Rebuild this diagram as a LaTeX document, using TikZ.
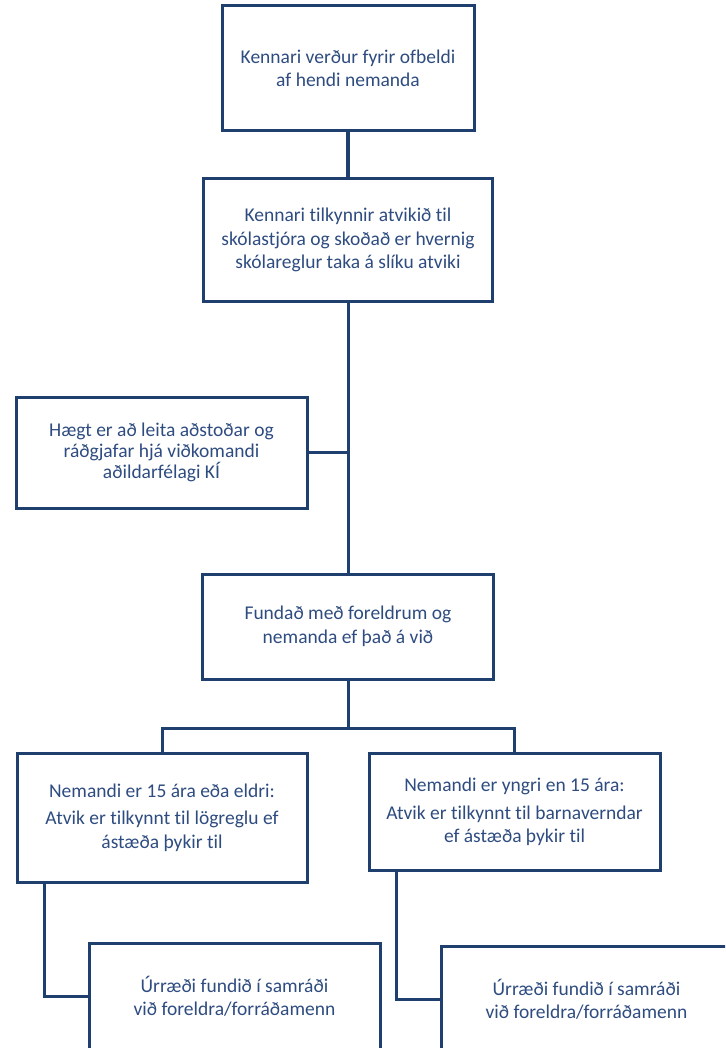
\documentclass[tikz,border=0pt]{standalone}
\usepackage{fontspec}
\setmainfont{Carlito}[Ligatures=NoCommon]
\usepackage{tikz}
\usetikzlibrary{positioning,calc}
\definecolor{navy}{HTML}{1F3F6E}
\definecolor{inkblue}{HTML}{2E4C80}
\tikzset{
  flowbox/.style={
    rectangle, draw=navy, line width=3pt, fill=white,
    minimum width=291pt, minimum height=#1,
    font=\fontsize{19.5}{23.5}\selectfont, text=inkblue, align=center,
    inner sep=4pt
  },
  flowbox/.default=110pt,
  link/.style={draw=navy, line width=3pt}
}
\begin{document}
\begin{tikzpicture}[x=1pt,y=-1pt]
\clip (0,0) rectangle (725,1048);
\node[flowbox=125pt, minimum width=252pt] (top) at (348,68.5) {Kennari verður fyrir ofbeldi\\af hendi nemanda};
\node[flowbox=122pt, minimum width=289pt, below=45pt of top] (report) {Kennari tilkynnir atvikið til\\skólastjóra og skoðað er hvernig\\skólareglur taka á slíku atviki};
\node[flowbox=111pt, font=\fontsize{19.5}{21}\selectfont] (advice) at (161.5,452.5) {Hægt er að leita aðstoðar og\\ráðgjafar hjá viðkomandi\\aðildarfélagi KÍ};
\node[flowbox=105pt, below=270pt of report] (meet) {Fundað með foreldrum og\\nemanda ef það á við};
\node[flowbox=129pt, minimum width=290pt] (older) at (162,817.5) {Nemandi er 15 ára eða eldri:\\[4pt]Atvik er tilkynnt til lögreglu ef\\ástæða þykir til};
\node[flowbox=117pt, font=\fontsize{19.5}{22.5}\selectfont] (younger) at (514.5,811.5) {Nemandi er yngri en 15 ára:\\[6pt]Atvik er tilkynnt til barnaverndar\\ef ástæða þykir til};
\node[flowbox=107pt, font=\fontsize{19.5}{23}\selectfont] (plan1) at (234.5,996.5) {Úrræði fundið í samráði\\við foreldra/forráðamenn};
\node[flowbox=106pt, font=\fontsize{19.5}{23}\selectfont] (plan2) at (586.5,999) {Úrræði fundið í samráði\\við foreldra/forráðamenn};
% connectors
\coordinate (split) at ($(meet.south)+(0,48)$);
\draw[link, line width=4pt] (top.south) -- (report.north);
\draw[link] (report.south) -- (meet.north);
\draw[link] (advice.east) -- (advice.east -| report.south);
\draw[link] (meet.south) -- (split);
\draw[link] (older.north) |- (split) -| (younger.north);
\draw[link] ([xshift=29pt]older.south west) |- (plan1.west);
\draw[link] ([xshift=29pt]younger.south west) |- (plan2.west);
\end{tikzpicture}
\end{document}
